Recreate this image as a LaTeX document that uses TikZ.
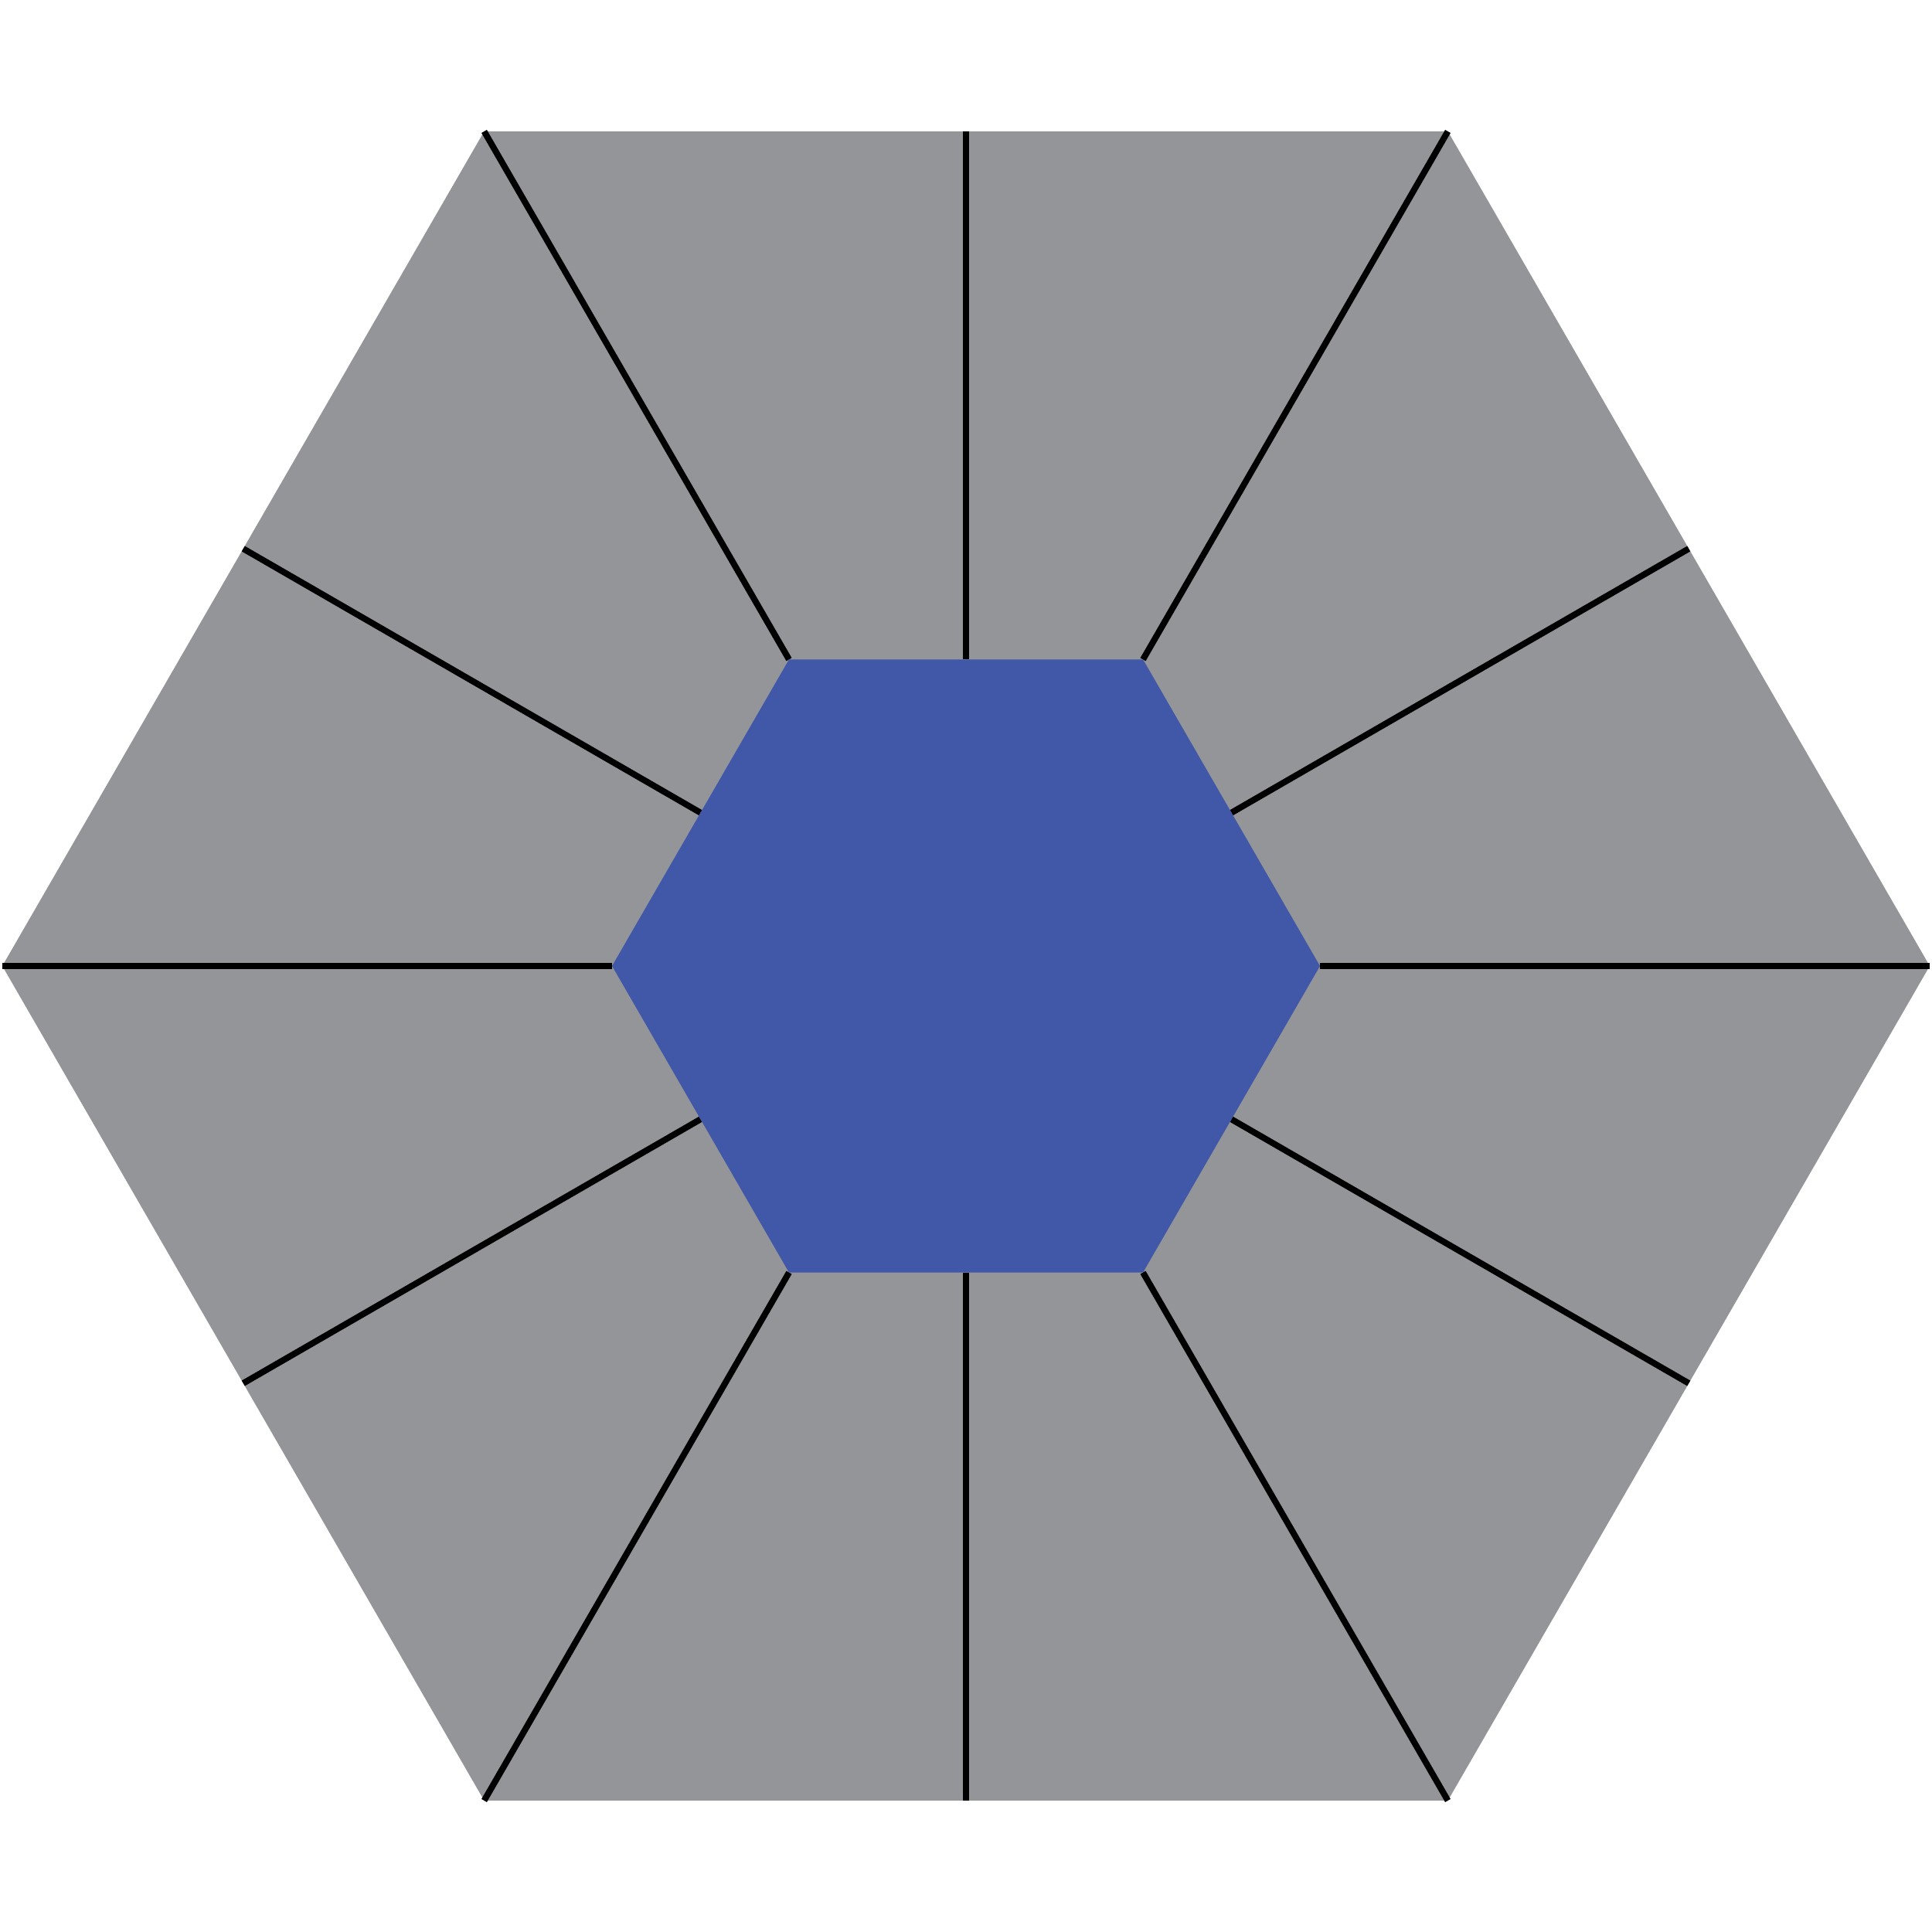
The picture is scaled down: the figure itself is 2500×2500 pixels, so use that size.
\documentclass[tikz,border=0pt]{standalone}
\usetikzlibrary{calc}
\definecolor{hexgrey}{RGB}{148,149,152}
\definecolor{hexblue}{RGB}{64,88,167}
\begin{document}
\begin{tikzpicture}[x=0.01cm,y=0.01cm,
  spoke/.style={draw=black,line width=0.08cm,line cap=butt}]
\useasboundingbox (0,0) rectangle (2500,2500);
\def\R{1247}
\def\r{458}
\foreach \i in {0,...,5} {
  \coordinate (O\i) at ($(1250,1250)+({\i*60}:\R)$);
  \coordinate (I\i) at ($(1250,1250)+({\i*60}:\r)$);
}
\fill[hexgrey] (O0)--(O1)--(O2)--(O3)--(O4)--(O5)--cycle;
\foreach \i [evaluate=\i as \j using {int(mod(\i+1,6))}] in {0,...,5} {
  \coordinate (OM\i) at ($(O\i)!0.5!(O\j)$);
  \coordinate (IM\i) at ($(I\i)!0.5!(I\j)$);
  \draw[spoke] (I\i) -- (O\i);
  \draw[spoke] (IM\i) -- (OM\i);
}
\fill[hexblue] (I0)--(I1)--(I2)--(I3)--(I4)--(I5)--cycle;
\end{tikzpicture}
\end{document}
